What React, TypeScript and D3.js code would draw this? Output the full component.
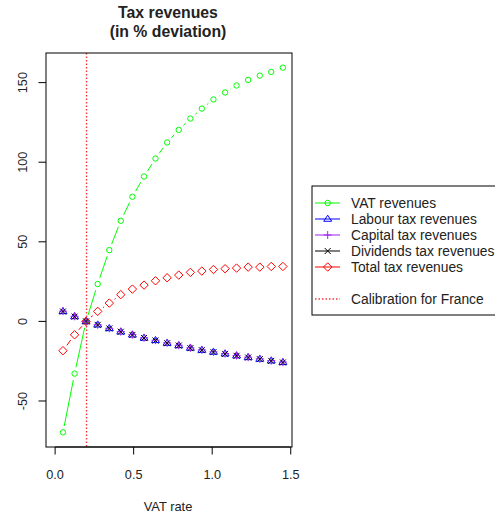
import React from "react";
import * as d3 from "d3";

const vatRate = [0.05, 0.124, 0.197, 0.271, 0.345, 0.418, 0.492, 0.566, 0.639, 0.713, 0.787, 0.861, 0.934, 1.008, 1.082, 1.155, 1.229, 1.303, 1.376, 1.45];
const vatRevenues = [-69.7, -32.8, 0, 23.5, 44.8, 63.2, 78.3, 91.0, 102.3, 112.4, 120.3, 127.4, 133.7, 139.4, 143.8, 148.2, 151.7, 154.4, 156.7, 159.4];
const labourRevenues = [6.3, 3.1, 0, -2.1, -4.4, -6.5, -8.4, -10.4, -11.9, -13.6, -15.1, -16.7, -18.0, -19.2, -20.3, -21.5, -22.6, -23.6, -24.7, -25.7];
const capitalRevenues = [6.4, 3.2, 0, -2.1, -4.3, -6.4, -8.3, -10.3, -11.8, -13.5, -15.0, -16.6, -17.9, -19.1, -20.2, -21.4, -22.5, -23.5, -24.6, -25.6];
const dividendsRevenues = [6.2, 3.0, 0, -2.2, -4.4, -6.5, -8.5, -10.4, -12.0, -13.7, -15.2, -16.8, -18.1, -19.3, -20.4, -21.6, -22.7, -23.7, -24.8, -25.8];
const totalRevenues = [-18.4, -8.4, 0, 6.3, 11.5, 16.8, 20.3, 22.8, 25.5, 27.4, 29.1, 30.8, 31.6, 32.6, 33.1, 33.5, 34.1, 34.1, 34.5, 34.5];
const calibrationRate = 0.2;
const xTicks = [0, 0.5, 1, 1.5];
const yTicks = [-50, 0, 50, 100, 150];
const legendLabels = ["VAT revenues", "Labour tax revenues", "Capital tax revenues", "Dividends tax revenues", "Total tax revenues", "", "Calibration for France"];

type Pch = "circle" | "triangle" | "plus" | "cross" | "diamond";
const seriesDefs: { values: number[]; color: string; pch: Pch }[] = [
  { values: vatRevenues, color: "#00FF00", pch: "circle" },
  { values: labourRevenues, color: "#0000FF", pch: "triangle" },
  { values: capitalRevenues, color: "#A020F0", pch: "plus" },
  { values: dividendsRevenues, color: "#000000", pch: "cross" },
  { values: totalRevenues, color: "#FF0000", pch: "diamond" },
];

const FONT = "'Liberation Sans', Arial, sans-serif";
const L = 46, R = 292, T = 53, B = 447;
const GAP = 6.5;
const TEXT = "#222";

function Marker({ x, y, pch, color }: { x: number; y: number; pch: Pch; color: string }) {
  const common = { fill: "none", stroke: color, strokeWidth: 1 };
  if (pch === "circle") return <circle cx={x} cy={y} r={2.7} {...common} />;
  if (pch === "triangle") {
    const s = 3.8;
    return <path d={`M${x},${y - s}L${x + s * 1.05},${y + s * 0.6}L${x - s * 1.05},${y + s * 0.6}Z`} {...common} />;
  }
  if (pch === "plus") {
    const s = 4;
    return <path d={`M${x - s},${y}H${x + s}M${x},${y - s}V${y + s}`} {...common} />;
  }
  if (pch === "cross") {
    const s = 3;
    return <path d={`M${x - s},${y - s}L${x + s},${y + s}M${x - s},${y + s}L${x + s},${y - s}`} {...common} />;
  }
  const s = 4.2;
  return <path d={`M${x},${y - s}L${x + s},${y}L${x},${y + s}L${x - s},${y}Z`} {...common} />;
}

export default function App() {
  const x = d3.scaleLinear().domain([-0.058, 1.508]).range([L, R]);
  const y = d3.scaleLinear().domain([-78.9, 168.6]).range([B, T]);

  const segs = (vals: number[]) => {
    const out: string[] = [];
    for (let i = 0; i < vals.length - 1; i++) {
      const x1 = x(vatRate[i]), y1 = y(vals[i]), x2 = x(vatRate[i + 1]), y2 = y(vals[i + 1]);
      const d = Math.hypot(x2 - x1, y2 - y1);
      if (d <= 2 * GAP) continue;
      const ux = (x2 - x1) / d, uy = (y2 - y1) / d;
      out.push(`M${x1 + ux * GAP},${y1 + uy * GAP}L${x2 - ux * GAP},${y2 - uy * GAP}`);
    }
    return out.join("");
  };

  const legX = 312, legTop = 186, legRowY0 = 203, legStep = 16;

  return (
    <svg width={495} height={518} style={{ position: "absolute", left: 0, top: 0, background: "#fff" }} fontFamily={FONT}>
      <rect x={0} y={0} width={495} height={518} fill="#fff" />
      <text x={168} y={17.5} textAnchor="middle" fontWeight="bold" fontSize={15.8} fill={TEXT}>Tax revenues</text>
      <text x={168} y={36.5} textAnchor="middle" fontWeight="bold" fontSize={15.8} fill={TEXT}>(in % deviation)</text>

      {/* calibration line */}
      <line x1={x(calibrationRate)} x2={x(calibrationRate)} y1={T} y2={B} stroke="#FF3333" strokeWidth={1.4} strokeDasharray="1.5,2" />

      {seriesDefs.map((s, si) => (
        <g key={si}>
          <path d={segs(s.values)} stroke={s.color} strokeWidth={1} fill="none" />
          {s.values.map((v, i) => (
            <Marker key={i} x={x(vatRate[i])} y={y(v)} pch={s.pch} color={s.color} />
          ))}
        </g>
      ))}

      <rect x={L} y={T} width={R - L} height={B - T} fill="none" stroke="#000" strokeWidth={1} />

      {/* x axis */}
      <line x1={x(0)} x2={x(1.5)} y1={B} y2={B} stroke="#000" />
      {xTicks.map((t) => (
        <g key={t}>
          <line x1={x(t)} x2={x(t)} y1={B} y2={B + 7.5} stroke="#000" />
          <text x={x(t)} y={478.5} textAnchor="middle" fontSize={12.7} fill={TEXT}>{t.toFixed(1)}</text>
        </g>
      ))}
      <text x={168} y={510.5} textAnchor="middle" fontSize={12.9} fill={TEXT}>VAT rate</text>

      {/* y axis */}
      {yTicks.map((t) => (
        <g key={t}>
          <line x1={L - 7.5} x2={L} y1={y(t)} y2={y(t)} stroke="#000" />
          <text transform={`translate(27,${y(t)}) rotate(-90)`} textAnchor="middle" fontSize={12.7} fill={TEXT}>{t}</text>
        </g>
      ))}

      {/* legend */}
      <rect x={legX} y={legTop} width={200} height={129} fill="#fff" stroke="#000" strokeWidth={1} />
      {legendLabels.map((lab, i) => {
        if (!lab) return null;
        const cy = legRowY0 + i * legStep;
        const isCal = i === legendLabels.length - 1;
        const s = seriesDefs[i];
        return (
          <g key={i}>
            {isCal ? (
              <line x1={315} x2={340} y1={cy} y2={cy} stroke="#FF3333" strokeWidth={1.4} strokeDasharray="1.5,2" />
            ) : (
              <>
                <line x1={315} x2={340} y1={cy} y2={cy} stroke={s.color} strokeWidth={1} />
                <Marker x={327.7} y={cy} pch={s.pch} color={s.color} />
              </>
            )}
            <text x={351} y={cy + 4.8} fontSize={13.8} fill={TEXT}>{lab}</text>
          </g>
        );
      })}
    </svg>
  );
}
